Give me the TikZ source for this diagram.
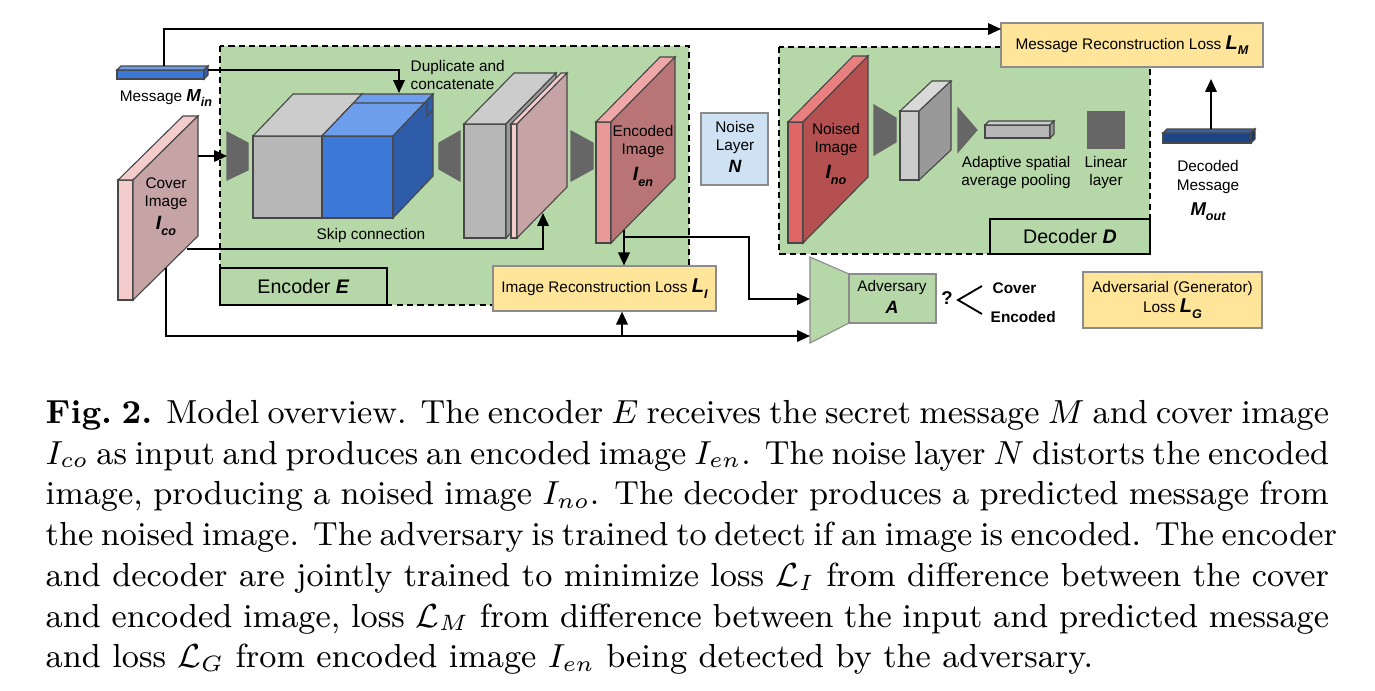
\documentclass[tikz,border=0pt]{standalone}
\usepackage{fontspec}
\newfontfamily\arialf{Liberation Sans}
\usetikzlibrary{arrows.meta,calc}
\definecolor{grn}{HTML}{B6D7A8}
\definecolor{ylw}{HTML}{FFE599}
\definecolor{lblue}{HTML}{CFE2F3}
\definecolor{bluF}{HTML}{3C78D8}
\definecolor{bluT}{HTML}{6D9EEB}
\definecolor{bluS}{HTML}{2F5CA8}
\definecolor{gryF}{HTML}{B7B7B7}
\definecolor{gryT}{HTML}{CCCCCC}
\definecolor{gryS}{HTML}{999999}
\definecolor{gryL}{HTML}{D9D9D9}
\definecolor{dkg}{HTML}{666666}
\definecolor{pnkF}{HTML}{F4CCCC}
\definecolor{pnkS}{HTML}{C6A3A4}
\definecolor{encF}{HTML}{EA9999}
\definecolor{encT}{HTML}{EFA8A8}
\definecolor{encS}{HTML}{B97575}
\definecolor{noiF}{HTML}{E06666}
\definecolor{noiT}{HTML}{E88080}
\definecolor{noiS}{HTML}{B45050}
\definecolor{navF}{HTML}{1C4587}
\definecolor{navT}{HTML}{3C5F9E}
\definecolor{navS}{HTML}{17376C}
\newcommand\lblf{\arialf\fontsize{4.15}{4.9}\selectfont}
\newcommand\bigf{\arialf\fontsize{5.3}{6}\selectfont}
\newcommand\capf{\fontsize{9}{11}\selectfont}
\newcommand\BI[3]{{\bfseries\itshape\fontsize{#1}{#1}\selectfont #2\raisebox{-0.28em}{\fontsize{3.4}{3.4}\selectfont #3}}}
\newcommand\slab[9]{%
 \filldraw[edge, fill=#7] (#1,#3) rectangle (#2,#4);
 \filldraw[edge, fill=#8] (#1,#3) -- (#2,#3) -- ({#2+#5},{#3+#6}) -- ({#1+#5},{#3+#6}) -- cycle;
 \filldraw[edge, fill=#9] (#2,#3) -- ({#2+#5},{#3+#6}) -- ({#2+#5},{#4+#6}) -- (#2,#4) -- cycle;}
\begin{document}
\begin{tikzpicture}[x=0.27pt,y=-0.27pt,
  conn/.style={line width=0.55pt, -{Triangle[length=3.5pt,width=3.1pt]}},
  plain/.style={line width=0.55pt},
  edge/.style={draw=black!72, line width=0.3pt},
  trap/.style={fill=dkg, draw=black!60, line width=0.3pt},
  dashb/.style={draw=black, line width=0.6pt, dash pattern=on 1.7pt off 1.1pt},
  lbl/.style={font=\lblf, align=center, inner sep=0pt},
  ybox/.style={fill=ylw, draw=black!45, line width=0.3pt, font=\lblf, align=center, inner sep=0pt},
  labbox/.style={fill=grn, draw=black, line width=0.55pt, font=\bigf, inner sep=0pt}]
\useasboundingbox (0,0) rectangle (1375,690);

% green regions
\fill[grn] (220,46) rectangle (689,305);
\draw[dashb] (220,46) rectangle (689,305);
\fill[grn] (779,47) rectangle (1150,254);
\draw[dashb] (779,47) rectangle (1150,254);

% message bar
\slab{117}{204}{70}{79}{4}{-4}{bluF}{bluT}{bluS}
\node[lbl] (minlab) at (166,98) {Message \BI{4.7}{M}{in}};

% cover image
\slab{118}{133}{180}{300}{65}{-64}{pnkF}{pnkF}{pnkS}
\node[lbl] (covlab) at (166,194) {Cover\\Image};
\node[lbl] (covsym) at (166,226) {\BI{5.2}{I}{co}};

% encoder trapezoid 1
\filldraw[trap] (227,132) -- (248,143) -- (248,170) -- (227,180) -- cycle;
% cube grey + blue
\slab{253}{322}{136}{218}{40}{-42}{gryF}{gryT}{gryS}
\slab{322}{393}{136}{218}{40}{-42}{bluF}{bluT}{bluS}
\draw[edge] (353.5,103) -- (427,103) -- (427,116) -- (433,110);
\node[lbl, anchor=west, align=left] (duplab) at (410,75) {Duplicate and\\concatenate};
\node[lbl] (skiplab) at (371,236) {Skip connection};

% trapezoid 2 (expanding)
\filldraw[trap] (439,143) -- (460,131) -- (460,181) -- (439,169) -- cycle;
% middle grey box + pink slab
\slab{464}{506}{124}{238}{50}{-51}{gryF}{gryT}{gryS}
\slab{511}{517}{124}{238}{50}{-51}{pnkF}{pnkF}{pnkS}
% trapezoid 3
\filldraw[trap] (571,131) -- (593,143) -- (593,169) -- (571,181) -- cycle;
% encoded image
\slab{596}{611}{122}{243}{64}{-65}{encF}{encT}{encS}
\node[lbl] (enclab) at (643,141.5) {Encoded\\Image};
\node[lbl] (encsym) at (643,177) {\BI{5.2}{I}{en}};

% noise layer
\node[fill=lblue, draw=black!45, line width=0.3pt, minimum width={67*0.27pt}, minimum height={72*0.27pt}, inner sep=0pt] (noise) at (734.5,149) {};
\node[lbl] (noiselab) at (735,137.5) {Noise\\Layer};
\node[lbl] (noisesym) at (735,169) {\BI{4.8}{N}{}};

% noised image
\slab{788}{803}{122}{243}{65}{-66}{noiF}{noiT}{noiS}
\node[lbl] (noilab) at (836,139.5) {Noised\\Image};
\node[lbl] (noisym) at (836,175) {\BI{5.2}{I}{no}};
% decoder trapezoid
\filldraw[trap] (874,105) -- (896,118) -- (896,142) -- (874,155) -- cycle;
\slab{900}{919}{111}{180}{32}{-30}{gryT}{gryL}{gryS}
\filldraw[trap] (958,108) -- (977,130) -- (958,152) -- cycle;
\slab{985}{1050}{125}{138}{4}{-4}{gryF}{gryT}{gryS}
\node[lbl] (poollab) at (1016,172.5) {Adaptive spatial\\average pooling};
\filldraw[fill=dkg, draw=black!60, line width=0.3pt] (1088,112) rectangle (1124,148);
\node[lbl] (linlab) at (1106,172.5) {Linear\\layer};

% decoded message
\slab{1163}{1251}{133}{143}{4}{-4}{navF}{navT}{navS}
\node[lbl] (declab) at (1208,177) {Decoded\\Message};
\node[lbl] (decsym) at (1208,212) {\BI{5.0}{M}{out}};

% label boxes
\node[labbox, minimum width={167*0.27pt}, minimum height={37*0.27pt}] (encl) at (303.5,286.5) {Encoder \textbf{\textit{E}}};
\node[labbox, minimum width={160*0.27pt}, minimum height={35*0.27pt}] (decl) at (1070,236.5) {Decoder \textbf{\textit{D}}};

% loss boxes
\node[ybox, minimum width={262*0.27pt}, minimum height={44*0.27pt}] (lm) at (1132,45) {Message Reconstruction Loss \BI{5.4}{L}{M}};
\node[ybox, minimum width={223*0.27pt}, minimum height={45*0.27pt}] (irl) at (604.5,288.5) {Image Reconstruction Loss \BI{5.4}{L}{I}};
\node[ybox, minimum width={179*0.27pt}, minimum height={56*0.27pt}] (agl) at (1172.5,300) {Adversarial (Generator)\\[0.6pt]Loss \BI{5.4}{L}{G}};

% adversary
\filldraw[fill=grn, draw=black!45, line width=0.3pt] (810,257) -- (849,274) -- (849,323) -- (810,343) -- cycle;
\node[fill=grn, draw=black!45, line width=0.3pt, minimum width={87*0.27pt}, minimum height={49*0.27pt}, inner sep=0pt] (adv) at (892.5,298.5) {};
\node[lbl] (advlab) at (892,288) {Adversary};
\node[lbl] (advsym) at (892,310) {\BI{4.8}{A}{}};
\node[font=\arialf\bfseries\fontsize{5}{5}\selectfont, inner sep=0pt] (qm) at (947,298) {?};
\coordinate (qa) at (958,300);
\coordinate (qb) at (982,286);
\coordinate (qc) at (982,314);
\draw[line width=0.5pt] (qb) -- (qa) -- (qc);
\node[font=\lblf\bfseries, anchor=west, inner sep=0pt] (cvr) at (992,288) {Cover};
\node[font=\lblf\bfseries, anchor=west, inner sep=0pt] (encd) at (990,317) {Encoded};

% connectors
\coordinate (mtop) at (164,66);
\coordinate (lmin) at (1001,29);
\draw[conn] (mtop) |- (lmin);
\coordinate (mright) at (208,70);
\coordinate (dupt) at (399,93);
\draw[conn] (mright) -| (dupt);
\coordinate (cov1) at (198,156);
\coordinate (t1in) at (227,156);
\draw[conn] (cov1) -- (t1in);
\coordinate (skip0) at (187,249);
\coordinate (skipt) at (543,213);
\draw[conn] (skip0) -| (skipt);
\coordinate (enc0) at (624,230);
\draw[conn] (enc0) -- (enc0 |- irl.north);
\coordinate (encb) at (624,237);
\coordinate (turn1) at (749,237);
\coordinate (advup) at (810,299);
\draw[conn] (encb) -- (turn1) |- (advup);
\coordinate (cov2) at (166,268);
\coordinate (advlo) at (810,336);
\draw[conn] (cov2) |- (advlo);
\coordinate (irlb) at (622,336);
\draw[conn] (irlb) -- (irlb |- irl.south);
\coordinate (dec0) at (1211,129);
\coordinate (dec1) at (1211,79);
\draw[conn] (dec0) -- (dec1);

% caption
\node[anchor=base west, inner sep=0pt, font=\capf] (cap1) at (45,423.5) {\makebox[346.5pt][s]{\textbf{Fig.~2.}\hspace{3.7pt}Model overview. The encoder $E$ receives the secret message $M$ and cover image}};
\node[anchor=base west, inner sep=0pt, font=\capf] (cap2) at (45,464.2) {\makebox[346.5pt][s]{$I_{co}$ as input and produces an encoded image $I_{en}$. The noise layer $N$ distorts the encoded}};
\node[anchor=base west, inner sep=0pt, font=\capf] (cap3) at (45,504.9) {\makebox[346.5pt][s]{image, producing a noised image $I_{no}$. The decoder produces a predicted message from}};
\node[anchor=base west, inner sep=0pt, font=\capf] (cap4) at (45,545.6) {\makebox[346.5pt][s]{the noised image. The adversary is trained to detect if an image is encoded. The encoder}};
\node[anchor=base west, inner sep=0pt, font=\capf] (cap5) at (45,586.3) {\makebox[346.5pt][s]{and decoder are jointly trained to minimize loss $\mathcal{L}_I$ from difference between the cover}};
\node[anchor=base west, inner sep=0pt, font=\capf] (cap6) at (45,627.0) {\makebox[346.5pt][s]{and encoded image, loss $\mathcal{L}_M$ from difference between the input and predicted message}};
\node[anchor=base west, inner sep=0pt, font=\capf] (cap7) at (45,667.7) {and loss $\mathcal{L}_G$ from encoded image $I_{en}$ being detected by the adversary.};
\end{tikzpicture}
\end{document}
